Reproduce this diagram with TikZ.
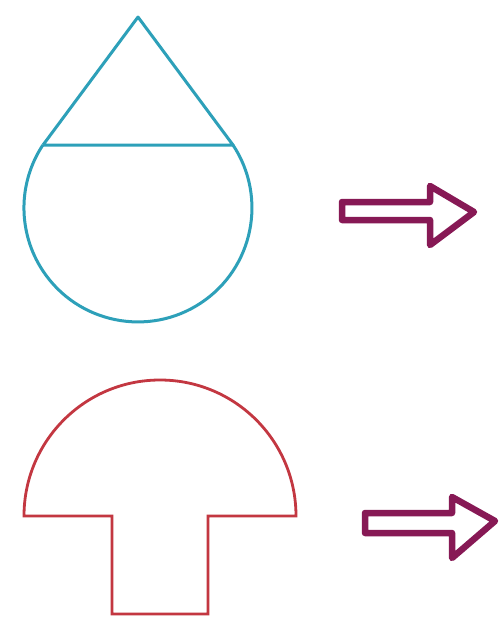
\documentclass[tikz,border=0pt]{standalone}
\definecolor{dropc}{RGB}{45,160,185}
\definecolor{mushc}{RGB}{195,55,65}
\definecolor{arrc}{RGB}{135,25,85}
\tikzset{
  dropline/.style={draw=dropc,line width=3pt,line join=round},
  mushline/.style={draw=mushc,line width=2.8pt,line join=miter},
  blockarrow/.style={draw=arrc,line width=6.5pt,line join=round}
}
\begin{document}
\begin{tikzpicture}[x=1pt,y=-1pt]
\useasboundingbox[fill=white] (0,0) rectangle (500,627);
% drop
\coordinate (apex) at (138,17);
\coordinate (cl) at (43,145);
\coordinate (cr) at (233,145);
\draw[dropline] (cl) -- (apex) -- (cr) -- (cl);
\draw[dropline] (cr) arc[start angle=-33.5,end angle=213.5,radius=114];
% mushroom
\draw[mushline] (24,516) arc[start angle=180,end angle=360,radius=136] -- (208,516) -- (208,614) -- (112,614) -- (112,516) -- cycle;
% arrows
\draw[blockarrow] (342,202) -- (430,202) -- (430,186) -- (474,212) -- (430,245) -- (430,220) -- (342,220) -- cycle;
\draw[blockarrow] (365,513) -- (452,513) -- (452,497) -- (495,521) -- (452,558) -- (452,533) -- (365,533) -- cycle;
\end{tikzpicture}
\end{document}
